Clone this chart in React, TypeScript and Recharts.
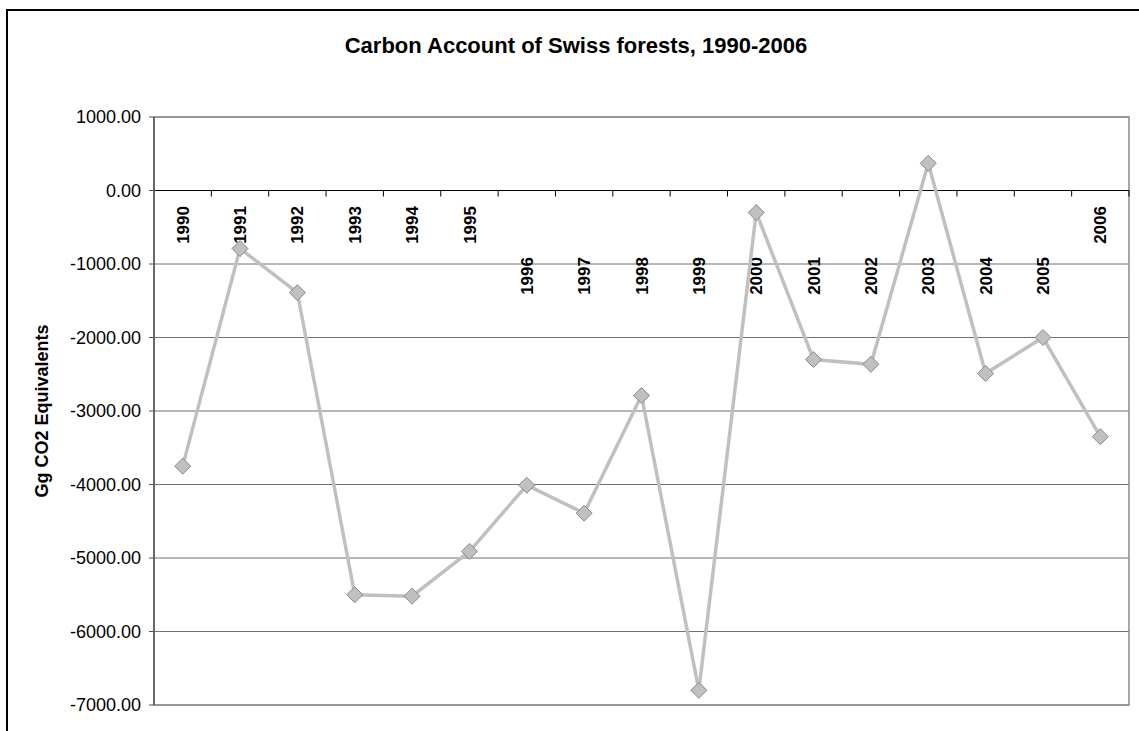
import { CartesianGrid, Line, LineChart, ReferenceArea, ReferenceLine, XAxis, YAxis } from "recharts";

const years = ["1990", "1991", "1992", "1993", "1994", "1995", "1996", "1997", "1998", "1999", "2000", "2001", "2002", "2003", "2004", "2005", "2006"];
const carbon = [-3750, -790, -1390, -5500, -5520, -4910, -4010, -4390, -2790, -6800, -300, -2300, -2365, 370, -2490, -2000, -3350];
const yTicks = [1000, 0, -1000, -2000, -3000, -4000, -5000, -6000, -7000];
// labels Excel pushed further down under the axis
const loweredYears = ["1996", "1997", "1998", "1999", "2000", "2001", "2002", "2003", "2004", "2005"];

const data = years.map((year, i) => ({ year, carbon: carbon[i] }));

const FONT = "'Liberation Sans', Arial, sans-serif";

function Diamond(props: any) {
  const { cx, cy } = props;
  if (cx == null || cy == null) return null;
  const r = 8;
  return (
    <path
      d={`M${cx},${cy - r}L${cx + r},${cy}L${cx},${cy + r}L${cx - r},${cy}Z`}
      fill="#c0c0c0"
      stroke="#8a8a8a"
      strokeWidth={1}
    />
  );
}

// category axis drawn on the zero line, like Excel's "crosses at 0"
function ZeroAxis(props: any) {
  const { x1, x2, y1 } = props;
  const step = (x2 - x1) / years.length;
  return (
    <g>
      <line x1={x1} x2={x2} y1={y1} y2={y1} stroke="#000" strokeWidth={1.2} />
      {years.map((_, i) => (
        <line key={`t${i}`} x1={x1 + step * (i + 1)} x2={x1 + step * (i + 1)} y1={y1} y2={y1 + 6} stroke="#000" />
      ))}
      {years.map((year, i) => {
        const cx = x1 + step * (i + 0.5);
        const top = y1 + (loweredYears.includes(year) ? 66.5 : 15.5);
        return (
          <text
            key={year}
            x={cx}
            y={top}
            dy="0.36em"
            transform={`rotate(-90, ${cx}, ${top})`}
            textAnchor="end"
            fontFamily={FONT}
            fontWeight="bold"
            fontSize={17}
            fill="#000"
          >
            {year}
          </text>
        );
      })}
    </g>
  );
}

export default function App() {
  return (
    <div
      style={{
        position: "absolute",
        left: 6,
        top: 9,
        width: 1133,
        height: 722,
        boxSizing: "border-box",
        borderTop: "2px solid #000",
        borderLeft: "2px solid #000",
        background: "#fff",
        overflow: "hidden",
      }}
    >
      <div
        style={{
          position: "absolute",
          left: 268,
          top: 24,
          width: 600,
          textAlign: "center",
          fontFamily: FONT,
          fontWeight: "bold",
          fontSize: 22,
          lineHeight: "22px",
          whiteSpace: "nowrap",
        }}
      >
        Carbon Account of Swiss forests, 1990-2006
      </div>
      <div
        style={{
          position: "absolute",
          left: 34 - 150,
          top: 400 - 12,
          width: 300,
          height: 24,
          lineHeight: "24px",
          textAlign: "center",
          transform: "rotate(-90deg)",
          fontFamily: FONT,
          fontWeight: "bold",
          fontSize: 18,
          whiteSpace: "nowrap",
        }}
      >
        Gg CO2 Equivalents
      </div>
      <LineChart width={1131} height={720} data={data} margin={{ top: 106, right: 10, bottom: 26, left: 0 }}>
        <CartesianGrid vertical={false} stroke="#707070" />
        <ReferenceArea y1={-7000} y2={1000} fill="none" stroke="#8c8c8c" strokeWidth={1.5} ifOverflow="visible" />
        <XAxis dataKey="year" scale="band" hide />
        <YAxis
          width={146}
          domain={[-7000, 1000]}
          ticks={yTicks}
          interval={0}
          tickFormatter={(v: number) => v.toFixed(2)}
          axisLine={{ stroke: "#555", strokeWidth: 1.5 }}
          tickLine={{ stroke: "#555" }}
          tickSize={5}
          tickMargin={8}
          tick={{ fill: "#000", fontFamily: FONT, fontSize: 18 }}
        />
        <ReferenceLine y={0} shape={ZeroAxis} />
        <Line
          dataKey="carbon"
          stroke="#c0c0c0"
          strokeWidth={3.5}
          dot={Diamond}
          activeDot={false}
          isAnimationActive={false}
        />
      </LineChart>
    </div>
  );
}
